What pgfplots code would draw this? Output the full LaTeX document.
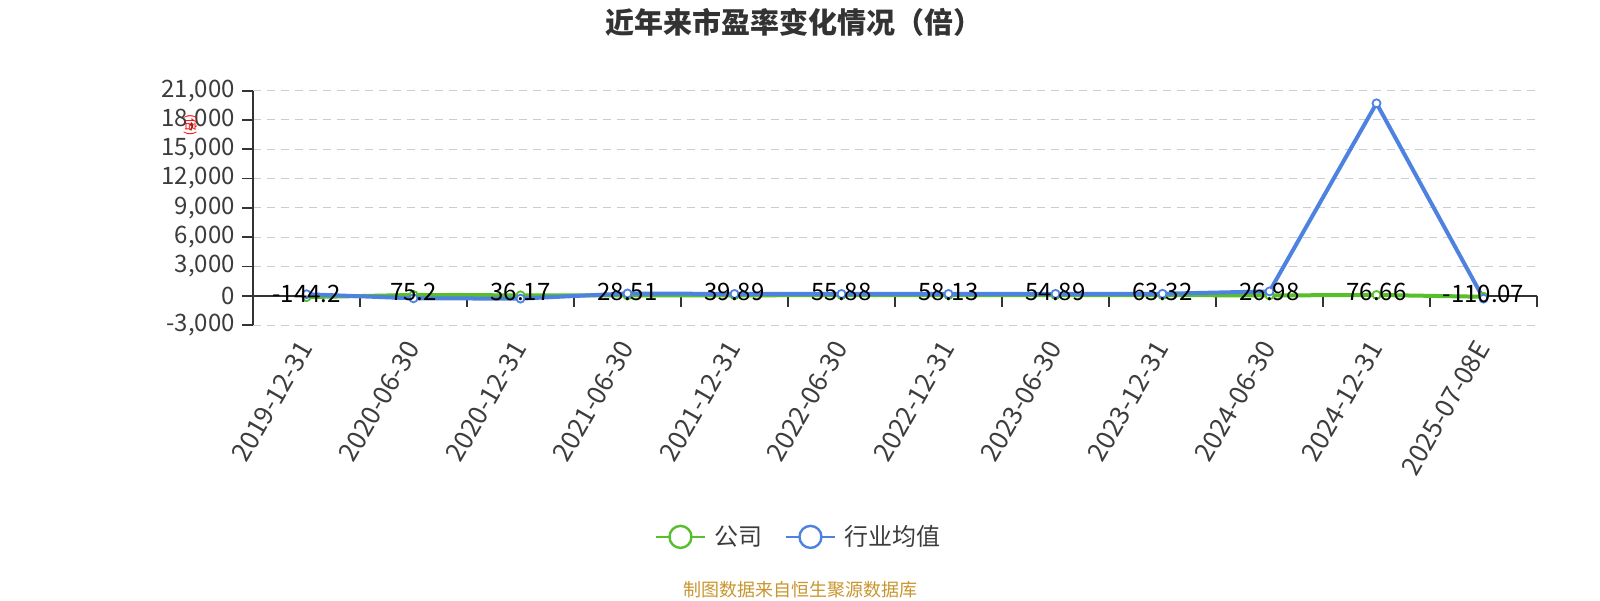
\documentclass[border=0pt]{standalone}
\usepackage{fontspec}
\setmainfont{Noto Sans CJK SC}
\usepackage{pgfplots}
\pgfplotsset{compat=1.18}
\definecolor{gs}{HTML}{58BF2B}
\definecolor{bs}{HTML}{4E82E0}
\definecolor{axisc}{HTML}{333333}
\definecolor{labc}{HTML}{3C3C3C}
\definecolor{gridc}{HTML}{CCCCCC}
\definecolor{footc}{HTML}{C8952E}

\begin{document}
\begin{tikzpicture}
\path[use as bounding box] (0,0) rectangle (800pt,300pt);
\begin{axis}[
  at={(126.5pt,137.5pt)}, anchor=south west,
  width=642pt, height=117.2pt, scale only axis,
  xmin=-0.5, xmax=11.5, ymin=-3000, ymax=21000,
  axis lines*=left, separate axis lines,
  x axis line style={draw=none},
  y axis line style={draw=axisc, line width=0.9pt},
  xtick={0,...,11},
  xticklabels={2019-12-31,2020-06-30,2020-12-31,2021-06-30,2021-12-31,2022-06-30,2022-12-31,2023-06-30,2023-12-31,2024-06-30,2024-12-31,2025-07-08E},
  xtick style={draw=none},
  xticklabel style={rotate=60, anchor=east, font=\fontsize{13}{13}\selectfont, text=labc, yshift=-1.5pt},
  scaled y ticks=false,
  ytick={-3000,0,...,21000},
  yticklabels={{-3,000},{0},{3,000},{6,000},{9,000},{12,000},{15,000},{18,000},{21,000}},
  ytick style={draw=axisc, line width=0.9pt},
  tick align=outside, major tick length=5.5pt,
  yticklabel style={font=\fontsize{12}{12}\selectfont, text=labc},
  ymajorgrids, grid style={gridc, dash pattern=on 4pt off 3pt, line width=0.5pt},
  clip=false,
  legend style={at={(axis description cs:0.426,-0.904)}, anchor=center, draw=none, fill=none,
    legend columns=2, font=\fontsize{12}{12}\selectfont, text=labc,
    /tikz/every even column/.append style={column sep=9pt}},
  legend image code/.code={
    \draw[line width=1pt] (0pt,0pt) -- (24.5pt,0pt);
    \draw[line width=1.2pt, fill=white] (12.25pt,0pt) circle (5.5pt);},
]
% zero line with band ticks
\draw[axisc, line width=0.9pt] (axis cs:-0.5,0) -- (axis cs:11.5,0);
\pgfplotsinvokeforeach{0,...,12}{\draw[axisc, line width=0.9pt] (axis cs:#1-0.5,0) -- ++(0pt,-5.5pt);}

\addplot[gs, line width=2pt, mark=*, mark size=2pt, mark options={fill=white, line width=0.9pt}]
  coordinates {(0,-144.2) (1,75.2) (2,36.17) (3,28.51) (4,39.89) (5,55.88) (6,58.13) (7,54.89) (8,63.32) (9,26.98) (10,76.66) (11,-110.07)};
\addlegendentry{\hspace{2.5pt}公司}
\addplot[bs, line width=2pt, mark=*, mark size=2pt, mark options={fill=white, line width=0.9pt}]
  coordinates {(0,150) (1,-270) (2,-300) (3,230) (4,180) (5,180) (6,180) (7,190) (8,200) (9,440) (10,19700) (11,-300)};
\addlegendentry{\hspace{2.5pt}行业均值}
\addplot[draw=none, mark=none, forget plot, nodes near coords, point meta=explicit symbolic,
  every node near coord/.append style={anchor=center, yshift=1.5pt, text=black, font=\fontsize{12}{12}\selectfont}]
  coordinates {(0,-144.2)[-144.2] (1,75.2)[75.2] (2,36.17)[36.17] (3,28.51)[28.51] (4,39.89)[39.89] (5,55.88)[55.88] (6,58.13)[58.13] (7,54.89)[54.89] (8,63.32)[63.32] (9,26.98)[26.98] (10,76.66)[76.66] (11,-110.07)[-110.07]};
\end{axis}
\node[font=\fontsize{14.5}{14.5}\selectfont\bfseries, text=axisc] at (397pt,288.75pt) {近年来市盈率变化情况（倍）};
\node[font=\fontsize{6.5}{6.5}\selectfont, text=red, rotate=-90] at (95.5pt,237.5pt) {(倍)};
\node[font=\fontsize{9}{9}\selectfont, text=footc] at (400pt,5pt) {制图数据来自恒生聚源数据库};
\end{tikzpicture}
\end{document}
